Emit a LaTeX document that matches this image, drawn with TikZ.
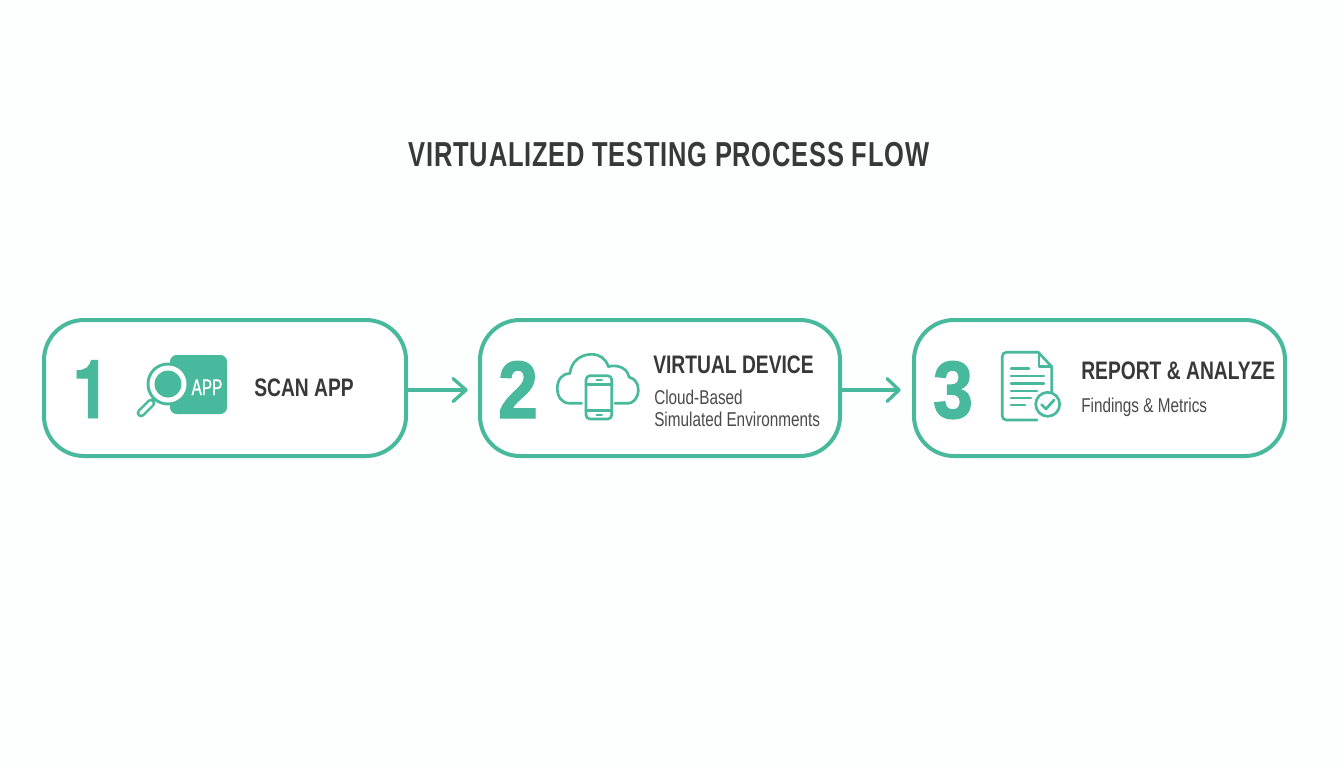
\documentclass[tikz,border=0pt]{standalone}
\usepackage{fontspec}
\setmainfont{Liberation Sans}
\newfontfamily\cond[FakeStretch=0.76]{Liberation Sans}
\newfontfamily\condsub[FakeStretch=0.765]{Liberation Sans}
\newfontfamily\condtitle[FakeStretch=0.735,LetterSpace=2.1]{Liberation Sans}
\newfontfamily\condnum[FakeStretch=0.88,FakeBold=1.6]{Liberation Sans}
\newfontfamily\condone[FakeStretch=0.82,FakeBold=1.2]{TeX Gyre Heros}
\newfontfamily\condapp[FakeStretch=0.68,FakeBold=1]{Liberation Sans}
\definecolor{teal1}{HTML}{48B99C}
\definecolor{ink}{HTML}{383838}
\definecolor{ink2}{HTML}{4A4A4A}
\newcommand{\fs}[1]{\fontsize{#1}{#1}\selectfont}
\tikzset{
  x=0.75pt,y=-0.75pt,
  stepbox/.style={draw=teal1,line width=3pt,rounded corners=30pt,inner sep=0pt,fill=white},
  flow/.style={draw=teal1,line width=2.3pt},
  head/.style={draw=teal1,line width=2.5pt,line cap=round,line join=round},
  icon/.style={draw=teal1,line width=2pt,line cap=round,line join=round},
  num/.style={text=teal1,anchor=base,inner sep=0pt},
  lab/.style={text=ink,anchor=base west,inner sep=0pt,font=\cond\bfseries\fs{19}},
  sub/.style={text=ink2,anchor=base west,inner sep=0pt,font=\condsub\fs{15}},
}
\begin{document}
\begin{tikzpicture}
\useasboundingbox (0,0) rectangle (1344,768);
\fill[white!99!teal1] (0,0) rectangle (1344,768);
\node[text=ink,anchor=base,inner sep=0pt,font=\condtitle\bfseries\fs{26}] (title) at (669,166) {VIRTUALIZED TESTING PROCESS FLOW};
% boxes
\node[stepbox,minimum width=271.5pt,minimum height=102pt] (b1) at (225,388) {};
\node[stepbox,minimum width=270pt,minimum height=102pt] (b2) at (660,388) {};
\node[stepbox,minimum width=278.25pt,minimum height=102pt] (b3) at (1099.5,388) {};
% connectors
\coordinate (t1) at (466,390);
\coordinate (t2) at (899,390);
\draw[flow] (b1.east|-t1) -- (t1);
\draw[flow] (b2.east|-t2) -- (t2);
\draw[head] (453,378.5) -- (t1) -- (453,401.5);
\draw[head] (887,378.5) -- (t2) -- (887,401.5);
% numbers
\node[num,font=\condone\bfseries\fs{61}] (n1) at (91,418) {1};
\node[num,font=\condnum\bfseries\fs{61}] (n2) at (518,418) {2};
\node[num,font=\condnum\bfseries\fs{61}] (n3) at (953,418) {3};
% icon 1
\fill[teal1,rounded corners=5pt] (170,355) rectangle (227,414);
\draw[teal1,line width=6.6pt,line cap=round] (141,413) -- (151,403);
\draw[white,line width=2.8pt,line cap=round] (141,413) -- (151,403);
\draw[teal1,line width=3pt] (152,401) -- (156,397);
\fill[teal1] (168,384) circle (21.5);
\fill[white] (168,384) circle (18.5);
\fill[teal1] (168,384) circle (13.5);
\node[text=white,anchor=base,inner sep=0pt,font=\condapp\fs{17}] (appt) at (207,395) {APP};
% icon 2
\draw[icon] (581.7,403.3) -- (570,403.3)
  .. controls (561,403.3) and (557.3,396) .. (557.3,388.3)
  .. controls (557.3,379) and (563,373.3) .. (570,373.3)
  .. controls (571,362) and (580,354.3) .. (591.7,354.3)
  .. controls (600,354.3) and (606,359) .. (608.3,366.7)
  .. controls (614,364.5) and (627,366) .. (629,377)
  .. controls (635,379) and (638.3,383) .. (638.3,390)
  .. controls (638.3,398) and (633,403.3) .. (628.3,403.3) -- (615,403.3);
\draw[icon,rounded corners=3pt] (586,375.7) rectangle (611.7,419);
\draw[icon] (586,384.3) -- (611.7,384.3) (586,410.3) -- (611.7,410.3);
\draw[icon,line width=1.2pt] (596.5,380) -- (602,380) (596.5,415) -- (602,415);
% icon 3
\draw[icon] (1051.7,392) -- (1051.7,366.7) -- (1038.3,352.3);
\draw[icon,rounded corners=3pt] (1038.3,352.3) -- (1002.3,352.3) -- (1002.3,420) -- (1037,420);
\draw[icon] (1039,353) -- (1039,366.7) -- (1051.7,366.7);
\draw[icon] (1011,368.5) -- (1029,368.5) (1011,376) -- (1044,376) (1011,383.5) -- (1044,383.5)
  (1011,391) -- (1037,391) (1011,398) -- (1031,398) (1011,405) -- (1025,405);
\draw[icon] (1047.7,404.3) circle (12);
\draw[icon] (1041.5,404.5) -- (1046,409) -- (1054,400);
% labels
\node[lab] (l1) at (254,396) {SCAN APP};
\node[lab] (l2) at (653,373) {VIRTUAL DEVICE};
\node[sub] (s2a) at (654,404) {Cloud-Based};
\node[sub] (s2b) at (654,426) {Simulated Environments};
\node[lab] (l3) at (1081,379) {REPORT \& ANALYZE};
\node[sub] (s3) at (1081,412) {Findings \& Metrics};
\end{tikzpicture}
\end{document}
